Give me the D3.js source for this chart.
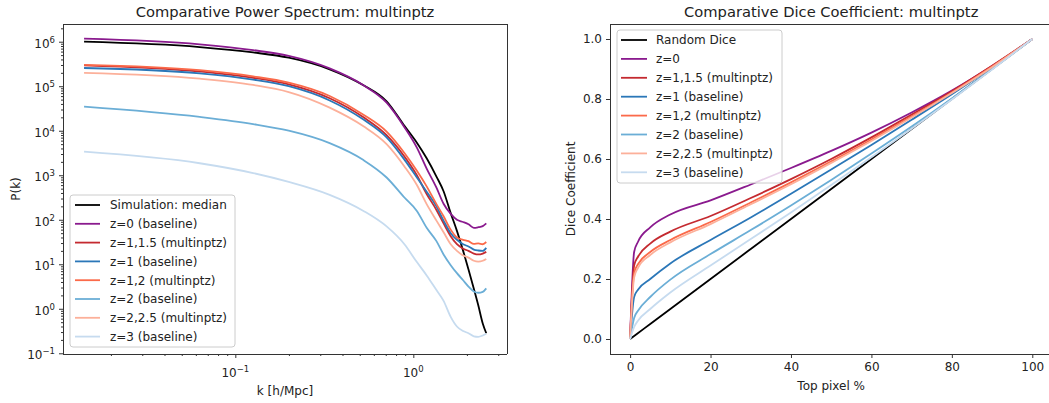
<!DOCTYPE html>
<html><head><meta charset="utf-8">
<script src="https://cdn.jsdelivr.net/npm/d3@7"></script>
<style>body{margin:0;background:#fff;} svg{display:block;font-family:"DejaVu Sans",sans-serif;}</style>
</head><body><svg id="c" width="1049" height="403"></svg>
<script>
// ---------- Power spectrum data ----------
const kValues = [0.01413, 0.0631, 0.1259, 0.1995, 0.3388, 0.5248, 0.7079, 0.8913, 1.0471, 1.1885, 1.349, 1.479, 1.622, 1.758, 1.905, 2.042, 2.188, 2.317, 2.455, 2.570];
const psSimMedian = [1.0e6, 7.59e5, 5.75e5, 4.37e5, 2.40e5, 1.05e5, 4.57e4, 1.29e4, 5.37e3, 2.40e3, 933, 437, 141, 56.2, 20.0, 7.59, 2.82, 1.20, 0.468, 0.282];
const psZ0 = [1.17e6, 8.71e5, 6.46e5, 4.79e5, 2.51e5, 1.05e5, 4.27e4, 1.20e4, 4.17e3, 1.41e3, 525, 229, 135, 100, 89, 79, 66, 68, 72, 83];
const psZ1_15 = [2.95e5, 2.14e5, 1.55e5, 1.10e5, 5.37e4, 2.0e4, 7.94e3, 2.63e3, 1.0e3, 380, 166, 83, 42.7, 28.2, 22.4, 20.0, 17.4, 16.6, 17.4, 19.0];
const psZ1 = [2.57e5, 1.95e5, 1.41e5, 1.0e5, 4.79e4, 1.78e4, 7.08e3, 2.24e3, 891, 427, 200, 95.5, 50, 35.5, 28.2, 25.1, 21.4, 20.4, 20.0, 23.4];
const psZ1_2 = [3.02e5, 2.29e5, 1.66e5, 1.20e5, 6.03e4, 2.29e4, 9.55e3, 3.16e3, 1.26e3, 562, 224, 120, 60, 40, 35.5, 33, 28.8, 29.5, 28.2, 31.6];
const psZ2 = [3.47e4, 2.04e4, 1.41e4, 1.0e4, 5.25e3, 2.19e3, 891, 316, 158, 66, 33.1, 16.6, 9.55, 6.31, 4.37, 3.16, 2.45, 2.29, 2.40, 2.88];
const psZ2_25 = [2.0e5, 1.48e5, 1.07e5, 7.41e4, 3.31e4, 1.26e4, 5.01e3, 1.58e3, 603, 224, 95.5, 52.5, 28.2, 20.0, 15.8, 14.1, 12.0, 11.5, 12.0, 13.2];
const psZ3 = [3.39e3, 1.86e3, 1.12e3, 708, 363, 158, 70.8, 28.2, 11.2, 5.62, 2.63, 1.51, 0.66, 0.40, 0.316, 0.282, 0.24, 0.234, 0.251, 0.275];
const psLabels = ["Simulation: median", "z=0 (baseline)", "z=1,1.5 (multinptz)", "z=1 (baseline)", "z=1,2 (multinptz)", "z=2 (baseline)", "z=2,2.5 (multinptz)", "z=3 (baseline)"];
const psMajorX = [0.1, 1];
const psMajorY = [0.1, 1, 10, 100, 1e3, 1e4, 1e5, 1e6];

// ---------- Dice data ----------
const topPct = [0, 1, 2, 5, 10, 20, 30, 40, 50, 60, 70, 80, 90, 100];
const diceRandom = [0, 0.01, 0.02, 0.05, 0.1, 0.2, 0.3, 0.4, 0.5, 0.6, 0.7, 0.8, 0.9, 1.0];
const diceZ0 = [0, 0.29, 0.325, 0.372, 0.415, 0.462, 0.515, 0.57, 0.627, 0.688, 0.755, 0.828, 0.91, 1.0];
const diceZ1_15 = [0, 0.245, 0.275, 0.318, 0.358, 0.41, 0.47, 0.533, 0.6, 0.672, 0.748, 0.826, 0.911, 1.0];
const diceZ1 = [0, 0.14, 0.165, 0.2, 0.252, 0.33, 0.405, 0.484, 0.565, 0.647, 0.731, 0.816, 0.906, 1.0];
const diceZ1_2 = [0, 0.22, 0.25, 0.29, 0.33, 0.39, 0.455, 0.522, 0.592, 0.665, 0.742, 0.822, 0.908, 1.0];
const diceZ2 = [0, 0.07, 0.095, 0.14, 0.198, 0.283, 0.363, 0.445, 0.53, 0.618, 0.708, 0.802, 0.9, 1.0];
const diceZ2_25 = [0, 0.205, 0.238, 0.28, 0.322, 0.383, 0.449, 0.516, 0.587, 0.66, 0.738, 0.82, 0.906, 1.0];
const diceZ3 = [0, 0.04, 0.062, 0.1, 0.155, 0.245, 0.333, 0.422, 0.513, 0.606, 0.701, 0.798, 0.898, 1.0];
const diceLabels = ["Random Dice", "z=0", "z=1,1.5 (multinptz)", "z=1 (baseline)", "z=1,2 (multinptz)", "z=2 (baseline)", "z=2,2.5 (multinptz)", "z=3 (baseline)"];
const diceTicksX = [0, 20, 40, 60, 80, 100];
const diceTicksY = [0.0, 0.2, 0.4, 0.6, 0.8, 1.0];

const colors = ["#000000", "#8a1a8e", "#c42a30", "#2b77b8", "#fb6a4a", "#6baed6", "#fcb09a", "#c6dbef"];

const svg = d3.select("#c");
const TXT = "#222", SPINE = "#333", FS = "12px";

function spines(g, x0, x1, y0, y1, sides) {
  const s = {top:[x0,y0,x1,y0], bottom:[x0,y1,x1,y1], left:[x0,y0,x0,y1], right:[x1,y0,x1,y1]};
  sides.forEach(k => g.append("line").attr("x1", s[k][0]).attr("y1", s[k][1]).attr("x2", s[k][2]).attr("y2", s[k][3])
    .attr("stroke", SPINE).attr("stroke-width", 1).attr("shape-rendering", "crispEdges"));
}
function styleAxis(a) {
  a.select(".domain").remove();
  a.selectAll("line").attr("stroke", SPINE);
  a.selectAll("text").attr("fill", TXT).style("font-size", FS).style("font-family", "DejaVu Sans");
}
function minorTicks(domain) {
  const out = [];
  for (let e = Math.floor(Math.log10(domain[0])); e <= Math.ceil(Math.log10(domain[1])); e++)
    for (let m = 2; m <= 9; m++) { const v = m * Math.pow(10, e); if (v > domain[0] && v < domain[1]) out.push(v); }
  return out;
}
function expStr(v) { const e = Math.round(Math.log10(v)); return e < 0 ? "\u2212" + (-e) : String(e); }
function legend(g, x, y, w, h, lx0, lx1, tx, ey0, edy, labels) {
  g.append("rect").attr("x", x).attr("y", y).attr("width", w).attr("height", h).attr("rx", 3)
    .attr("fill", "#fff").attr("fill-opacity", 0.8).attr("stroke", "#cccccc").attr("stroke-width", 1);
  labels.forEach((t, i) => {
    const yy = ey0 + i * edy;
    g.append("line").attr("x1", lx0).attr("x2", lx1).attr("y1", yy).attr("y2", yy).attr("stroke", colors[i]).attr("stroke-width", 1.8);
    g.append("text").attr("x", tx).attr("y", yy + 4.3).attr("fill", TXT).style("font-size", FS).text(t);
  });
}

// ================= LEFT: power spectrum =================
{
  const x0 = 63, x1 = 507, y0 = 24, y1 = 354;
  const xs = d3.scaleLog().domain([0.01076, 3.36]).range([x0, x1]);
  const ys = d3.scaleLog().domain([0.0964, 2.5e6]).range([y1, y0]);
  const g = svg.append("g");
  const series = [psSimMedian, psZ0, psZ1_15, psZ1, psZ1_2, psZ2, psZ2_25, psZ3];
  const line = d3.line().x(d => xs(d[0])).y(d => ys(d[1])).curve(d3.curveMonotoneX);
  series.forEach((s, i) => {
    g.append("path").datum(kValues.map((k, j) => [k, s[j]])).attr("d", line)
      .attr("fill", "none").attr("stroke", colors[i]).attr("stroke-width", 1.8).attr("stroke-linejoin", "round");
  });
  const ax = g.append("g").attr("transform", `translate(0,${y1})`).call(d3.axisBottom(xs).tickValues(psMajorX).tickSize(4).tickFormat(""));
  styleAxis(ax);
  const axm = g.append("g").attr("transform", `translate(0,${y1})`).call(d3.axisBottom(xs).tickValues(minorTicks(xs.domain())).tickSize(2).tickFormat(""));
  styleAxis(axm);
  const ay = g.append("g").attr("transform", `translate(${x0},0)`).call(d3.axisLeft(ys).tickValues(psMajorY).tickSize(4).tickFormat(""));
  styleAxis(ay);
  const aym = g.append("g").attr("transform", `translate(${x0},0)`).call(d3.axisLeft(ys).tickValues(minorTicks(ys.domain())).tickSize(2).tickFormat(""));
  styleAxis(aym);
  psMajorX.forEach(v => {
    const t = g.append("text").attr("x", xs(v)).attr("y", 377).attr("text-anchor", "middle").attr("fill", TXT).style("font-size", FS);
    t.append("tspan").text("10");
    t.append("tspan").attr("dy", -5).style("font-size", "8.5px").text(expStr(v));
  });
  psMajorY.forEach(v => {
    const t = g.append("text").attr("x", 55).attr("y", ys(v) + 6).attr("text-anchor", "end").attr("fill", TXT).style("font-size", FS);
    t.append("tspan").text("10");
    t.append("tspan").attr("dy", -5).style("font-size", "8.5px").text(expStr(v));
  });
  spines(g, x0, x1, y0, y1, ["top", "bottom", "left", "right"]);
  legend(g, 70, 195, 165, 152, 75, 100, 110, 205, 18.8, psLabels);
  g.append("text").attr("x", (x0 + x1) / 2).attr("y", 17).attr("text-anchor", "middle").attr("fill", TXT).style("font-size", "14.7px").text("Comparative Power Spectrum: multinptz");
  g.append("text").attr("x", (x0 + x1) / 2).attr("y", 394.5).attr("text-anchor", "middle").attr("fill", TXT).style("font-size", FS).text("k [h/Mpc]");
  g.append("text").attr("transform", `translate(19.5,${(y0 + y1) / 2}) rotate(-90)`).attr("text-anchor", "middle").attr("fill", TXT).style("font-size", FS).text("P(k)");
}

// ================= RIGHT: dice coefficient =================
{
  const x0 = 610, x1 = 1052.4, y0 = 24, y1 = 354;
  const xs = d3.scaleLinear().domain([-5, 105]).range([x0, x1]);
  const ys = d3.scaleLinear().domain([-0.05, 1.05]).range([y1, y0]);
  const g = svg.append("g");
  const series = [diceRandom, diceZ0, diceZ1_15, diceZ1, diceZ1_2, diceZ2, diceZ2_25, diceZ3];
  const line = d3.line().x(d => xs(d[0])).y(d => ys(d[1])).curve(d3.curveMonotoneX);
  series.forEach((s, i) => {
    g.append("path").datum(topPct.map((p, j) => [p, s[j]])).attr("d", line)
      .attr("fill", "none").attr("stroke", colors[i]).attr("stroke-width", 1.8).attr("stroke-linejoin", "round");
  });
  const ax = g.append("g").attr("transform", `translate(0,${y1})`).call(d3.axisBottom(xs).tickValues(diceTicksX).tickSize(4).tickPadding(4).tickFormat(d3.format("d")));
  styleAxis(ax);
  const ay = g.append("g").attr("transform", `translate(${x0},0)`).call(d3.axisLeft(ys).tickValues(diceTicksY).tickSize(4).tickPadding(4).tickFormat(d3.format(".1f")));
  styleAxis(ay);
  spines(g, x0, x1, y0, y1, ["top", "bottom", "left", "right"]);
  legend(g, 617, 30, 165, 153, 621, 647, 656, 40, 18.9, diceLabels);
  g.append("text").attr("x", (x0 + x1) / 2).attr("y", 17).attr("text-anchor", "middle").attr("fill", TXT).style("font-size", "14.7px").text("Comparative Dice Coefficient: multinptz");
  g.append("text").attr("x", (x0 + x1) / 2).attr("y", 389.5).attr("text-anchor", "middle").attr("fill", TXT).style("font-size", FS).text("Top pixel %");
  g.append("text").attr("transform", `translate(574.5,${(y0 + y1) / 2}) rotate(-90)`).attr("text-anchor", "middle").attr("fill", TXT).style("font-size", FS).text("Dice Coefficient");
}
</script></body></html>
